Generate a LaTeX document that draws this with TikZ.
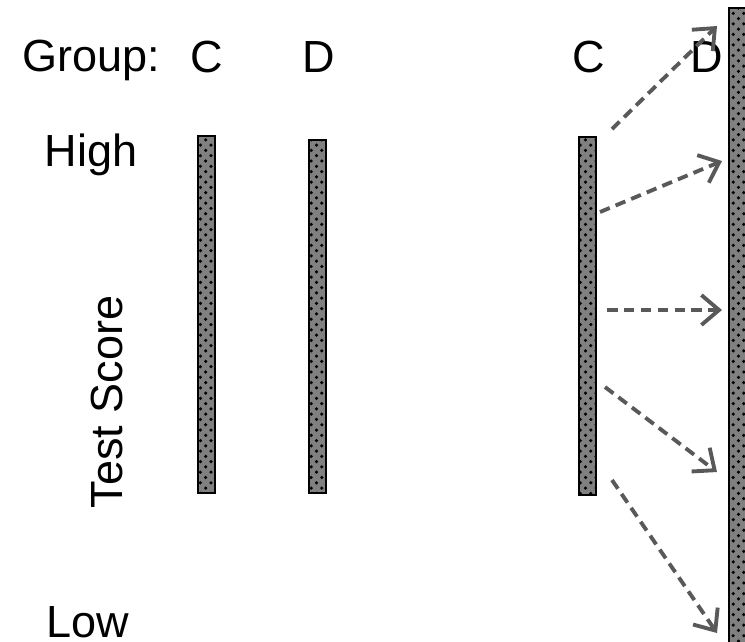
\documentclass[tikz,border=0pt]{standalone}
\usepackage{fontspec}
\setmainfont{Liberation Sans}
\usetikzlibrary{arrows.meta,patterns}
\begin{document}
\begin{tikzpicture}[x=0.01cm,y=-0.01cm,
  lbl/.style={font=\fontsize{12.8pt}{14pt}\selectfont, inner sep=0pt, anchor=base},
  bar/.style={draw=black, line width=0.5pt, fill=black!50,
    postaction={pattern=crosshatch dots, pattern color=black}},
  movearrow/.style={draw=black!65, line width=1.1pt, dash pattern=on 3pt off 1.8pt,
    -{Straight Barb[length=5pt,width=8.5pt]}}]
\useasboundingbox (0,0) rectangle (745,641);
% labels
\node[lbl] (group) at (91,71) {Group:};
\node[lbl] (c1) at (207,72) {C};
\node[lbl] (d1) at (319,72) {D};
\node[lbl] (c2) at (589,72) {C};
\node[lbl] (d2) at (707,72) {D};
\node[lbl] (high) at (91,166) {High};
\node[lbl] (low) at (88,637) {Low};
\node[lbl, rotate=90] (score) at (123,402) {Test Score};
% bars
\path[bar] (198,136) rectangle (215,493);
\path[bar] (309,140) rectangle (326,493);
\path[bar] (579,137) rectangle (596,495);
\path[bar] (729,8) rectangle (748,645);
% arrow end points
\coordinate (s1) at (612,129);
\coordinate (e1) at (717,26);
\coordinate (s2) at (600,212);
\coordinate (e2) at (722,161);
\coordinate (s3) at (607,310);
\coordinate (e3) at (722,310);
\coordinate (s4) at (605,387);
\coordinate (e4) at (717,472);
\coordinate (s5) at (612,480);
\coordinate (e5) at (717,633);
\draw[movearrow] (s1) -- (e1);
\draw[movearrow] (s2) -- (e2);
\draw[movearrow] (s3) -- (e3);
\draw[movearrow] (s4) -- (e4);
\draw[movearrow] (s5) -- (e5);
\end{tikzpicture}
\end{document}
